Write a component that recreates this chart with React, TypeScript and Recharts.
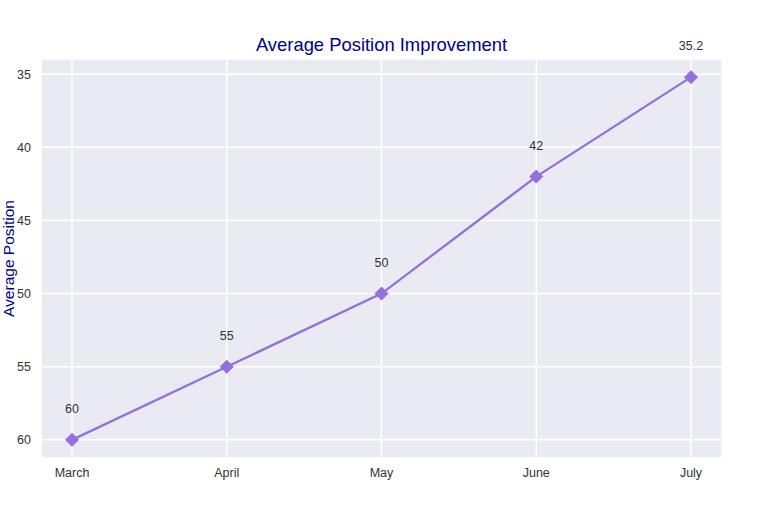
import React from 'react';
import {
  LineChart,
  Line,
  XAxis,
  YAxis,
  CartesianGrid,
  LabelList,
} from 'recharts';

const months = ['March', 'April', 'May', 'June', 'July'];
const avgPosition = [60, 55, 50, 42, 35.2];
const yTicks = [35, 40, 45, 50, 55, 60];

const chartData = months.map((month, i) => ({ month, position: avgPosition[i] }));

const Diamond = (props: any) => {
  const { cx, cy } = props;
  if (cx == null || cy == null) return null;
  const r = 6.5;
  return (
    <polygon
      points={`${cx},${cy - r} ${cx + r},${cy} ${cx},${cy + r} ${cx - r},${cy}`}
      fill="#9370DB"
      stroke="#9370DB"
      strokeWidth={1}
    />
  );
};

const YLabel = () => (
  <text
    x={0}
    y={0}
    transform="translate(14, 258.5) rotate(-90)"
    textAnchor="middle"
    fill="#00008B"
    fontSize={15.5}
    fontFamily="Liberation Sans, Arial, sans-serif"
  >
    Average Position
  </text>
);

export default function App() {
  const font = 'Liberation Sans, Arial, sans-serif';
  return (
    <div style={{ position: 'absolute', left: 0, top: 0, width: 766, height: 521, background: '#fff' }}>
      <div
        style={{
          position: 'absolute',
          left: 0,
          width: 763,
          top: 34,
          textAlign: 'center',
          fontFamily: font,
          fontSize: 18.4,
          color: '#00008B',
          lineHeight: '22px',
        }}
      >
        Average Position Improvement
      </div>
      <LineChart
        width={766}
        height={521}
        data={chartData}
        margin={{ top: 59, right: 44, bottom: 33, left: 0 }}
      >
        <CartesianGrid fill="#EAEAF2" stroke="#ffffff" strokeWidth={1.5} />
        <XAxis
          dataKey="month"
          height={30}
          padding={{ left: 31, right: 31 }}
          axisLine={false}
          tickLine={false}
          tickSize={0}
          tickMargin={10}
          tick={{ fill: '#333333', fontSize: 12.5, fontFamily: font }}
        />
        <YAxis
          reversed
          type="number"
          domain={[33.96, 61.24]}
          ticks={yTicks}
          width={41}
          axisLine={false}
          tickLine={false}
          tickSize={0}
          tickMargin={10}
          tick={{ fill: '#333333', fontSize: 12.5, fontFamily: font }}
          label={<YLabel />}
        />
        <Line
          dataKey="position"
          stroke="#9370DB"
          strokeWidth={2.3}
          dot={<Diamond />}
          activeDot={false}
          isAnimationActive={false}
        >
          <LabelList
            dataKey="position"
            position="top"
            offset={27}
            fill="#333333"
            fontSize={12.5}
            fontFamily={font}
          />
        </Line>
      </LineChart>
    </div>
  );
}
